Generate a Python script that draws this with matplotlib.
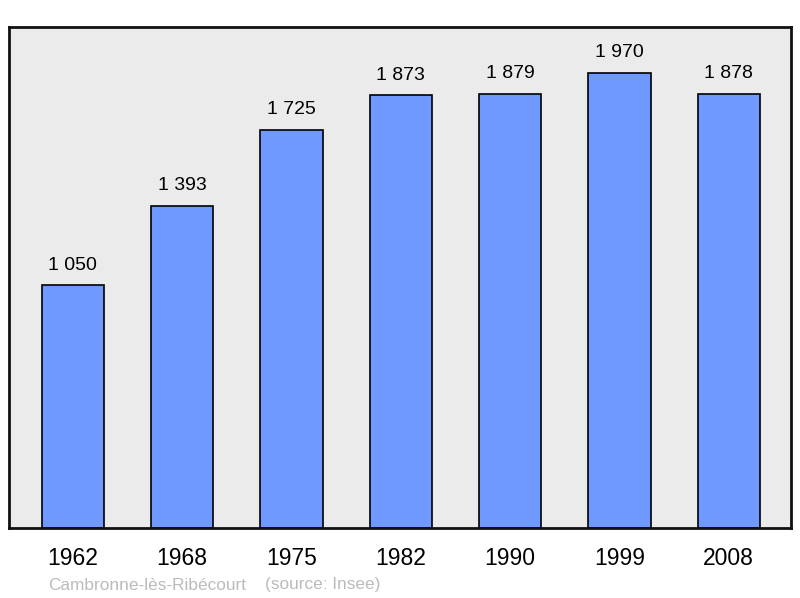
import matplotlib
matplotlib.use("Agg")
import matplotlib.pyplot as plt

# ── data ────────────────────────────────────────────────────────────────────
years      = ["1962", "1968", "1975", "1982", "1990", "1999", "2008"]
population = [1050, 1393, 1725, 1873, 1879, 1970, 1878]
value_labels = ["1 050", "1 393", "1 725", "1 873", "1 879", "1 970", "1 878"]
commune    = "Cambronne-lès-Ribécourt"
source     = "(source: Insee)"
# ────────────────────────────────────────────────────────────────────────────

plt.rcParams["font.family"] = ["Liberation Sans", "DejaVu Sans"]

fig = plt.figure(figsize=(8, 5.98), dpi=100)
ax = fig.add_axes([9 / 800, 1 - 528 / 598, 782 / 800, 501 / 598])
ax.set_facecolor("#ebebeb")

x = range(len(years))
ax.bar(x, population, width=0.57, color="#7099ff", edgecolor="black",
       linewidth=1.2, zorder=2)

for i, (v, lab) in enumerate(zip(population, value_labels)):
    ax.annotate(lab, (i, v), xytext=(0, 8.5), textcoords="offset points",
                ha="center", va="bottom", fontsize=14)

ax.set_xlim(-0.585, 6.57)
ax.set_ylim(0, 2169)
ax.set_yticks([])
ax.set_xticks(list(x))
ax.set_xticklabels(years, fontsize=16.5)
ax.tick_params(axis="x", length=0, pad=13.5)

for s in ax.spines.values():
    s.set_linewidth(2)
    s.set_color("#111111")

fig.text(48 / 800, 1 - 585 / 598, commune, fontsize=12.4, color="#bbbbbb",
         va="center", ha="left")
fig.text(265 / 800, 1 - 585 / 598, source, fontsize=12.4, color="#bbbbbb",
         va="center", ha="left")

fig.savefig("out.png", dpi=100)
